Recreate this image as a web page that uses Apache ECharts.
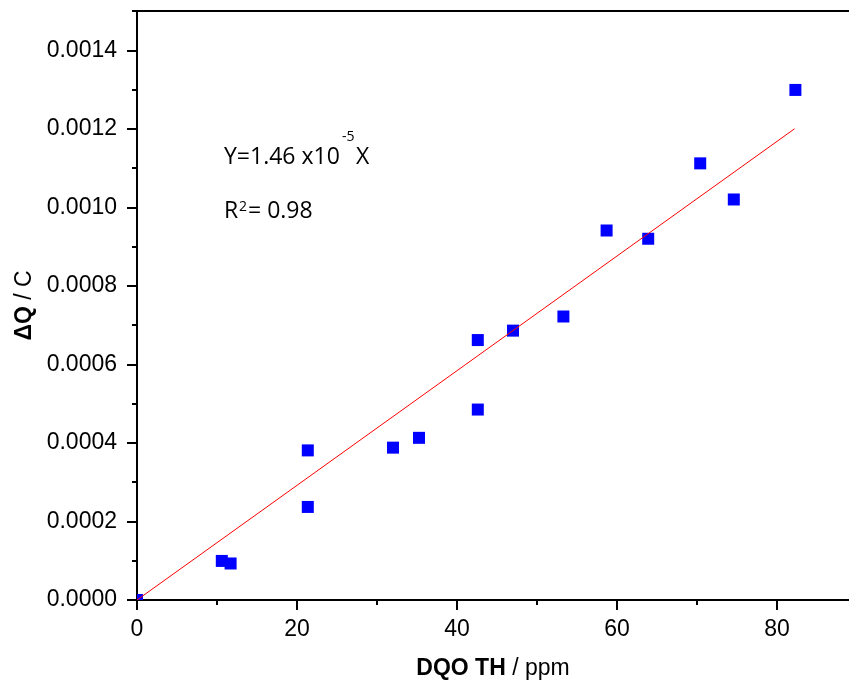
<!DOCTYPE html>
<html>
<head>
<meta charset="utf-8">
<script src="https://cdn.jsdelivr.net/npm/echarts@6/dist/echarts.min.js"></script>
<style>html,body{margin:0;padding:0;background:#fff}#c{width:849px;height:690px}</style>
</head>
<body>
<div id="c"></div>
<script>
// Data
var dqo = [0, 10.6, 11.7, 21.35, 21.35, 32.0, 35.25, 42.6, 42.6, 47.0, 53.3, 58.7, 63.9, 70.4, 74.6, 82.3];
var deltaQ = [0, 0.0000995, 0.000093, 0.000381, 0.000237, 0.000388, 0.000413, 0.000662, 0.000485, 0.000686, 0.000722, 0.000941, 0.000920, 0.001112, 0.00102, 0.001299];
var fitX = [0, 82.2];
var slope = 1.46e-5;
var xMajorTicks = [0, 20, 40, 60, 80];
var xMinorTicks = [10, 30, 50, 70];
var yMajorTicks = [0, 0.0002, 0.0004, 0.0006, 0.0008, 0.0010, 0.0012, 0.0014];
var yMinorTicks = [0.0001, 0.0003, 0.0005, 0.0007, 0.0009, 0.0011, 0.0013, 0.0015];

var pts = dqo.map(function (x, i) {
  // the origin marker is cut by the axes in the reference: show only its inner quarter
  if (x === 0 && deltaQ[i] === 0) return {value: [x, deltaQ[i]], symbolSize: 6, symbolOffset: [3, -3]};
  return [x, deltaQ[i]];
});
var fit = fitX.map(function (x) { return [x, slope * x]; });

var chart = echarts.init(document.getElementById('c'), null, {renderer: 'canvas'});
var FONT = '"Liberation Sans", Arial, sans-serif';
var axisLineStyle = {color: '#000', width: 2};
var nameRich = {
  b: {fontFamily: FONT, fontWeight: 'bold', fontSize: 23, color: '#000'},
  n: {fontFamily: FONT, fontSize: 23, color: '#000'}
};
chart.setOption({
  animation: false,
  backgroundColor: '#fff',
  grid: {left: 137, right: 0, top: 11, bottom: 90, containLabel: false},
  xAxis: [{
    type: 'value', min: 0, max: 89, position: 'bottom',
    axisLine: {show: true, onZero: false, lineStyle: axisLineStyle},
    axisTick: {show: true, inside: false, length: 10, lineStyle: {width: 2, color: '#000'}, customValues: xMajorTicks},
    axisLabel: {show: true, margin: 18, fontFamily: FONT, fontSize: 23, color: '#000', customValues: xMajorTicks},
    splitLine: {show: false},
    name: '{b|DQO TH }{n|/ ppm}', nameLocation: 'middle', nameGap: 57,
    nameTextStyle: {rich: nameRich}
  }, {
    type: 'value', min: 0, max: 89, position: 'bottom',
    axisLine: {show: false}, axisLabel: {show: false}, splitLine: {show: false},
    axisTick: {show: true, length: 5, lineStyle: {width: 2, color: '#000'}, customValues: xMinorTicks}
  }, {
    type: 'value', min: 0, max: 89, position: 'top',
    axisLine: {show: true, onZero: false, lineStyle: axisLineStyle},
    axisTick: {show: false}, axisLabel: {show: false}, splitLine: {show: false}
  }],
  yAxis: [{
    type: 'value', min: 0, max: 0.0015, position: 'left',
    axisLine: {show: true, onZero: false, lineStyle: axisLineStyle},
    axisTick: {show: true, length: 10, lineStyle: {width: 2, color: '#000'}, customValues: yMajorTicks},
    axisLabel: {show: true, margin: 20, fontFamily: FONT, fontSize: 23, color: '#000', customValues: yMajorTicks,
      formatter: function (v) { return v.toFixed(4); }},
    splitLine: {show: false},
    name: '{b|ΔQ }{n|/ C}', nameLocation: 'middle', nameGap: 100, nameRotate: 90,
    nameTextStyle: {rich: nameRich}
  }, {
    type: 'value', min: 0, max: 0.0015, position: 'left',
    axisLine: {show: false}, axisLabel: {show: false}, splitLine: {show: false},
    axisTick: {show: true, length: 5, lineStyle: {width: 2, color: '#000'}, customValues: yMinorTicks}
  }],
  series: [{
    type: 'scatter', xAxisIndex: 0, yAxisIndex: 0, data: pts,
    symbol: 'rect', symbolSize: 12, clip: true,
    itemStyle: {color: '#0000ff', opacity: 1}, z: 2
  }, {
    type: 'line', xAxisIndex: 0, yAxisIndex: 0, data: fit,
    symbol: 'none', lineStyle: {color: '#ff0000', width: 1}, z: 3
  }],
  graphic: [
    {type: 'text', left: 224, top: 146, style: {text: 'Y=1.46 x10', font: '23px "Open Sans"', fill: '#000'}},
    {type: 'text', left: 342, top: 130, style: {text: '-5', font: '14px "Open Sans"', fill: '#000'}},
    {type: 'text', left: 356, top: 146, style: {text: 'X', font: '23px "Open Sans"', fill: '#000'}},
    {type: 'text', left: 224, top: 200, style: {text: 'R', font: '23px "Open Sans"', fill: '#000'}},
    {type: 'text', left: 239, top: 200, style: {text: '2', font: '14px "Open Sans"', fill: '#000'}},
    {type: 'text', left: 248, top: 200, style: {text: '= 0.98', font: '23px "Open Sans"', fill: '#000'}}
  ]
});
</script>
</body>
</html>
